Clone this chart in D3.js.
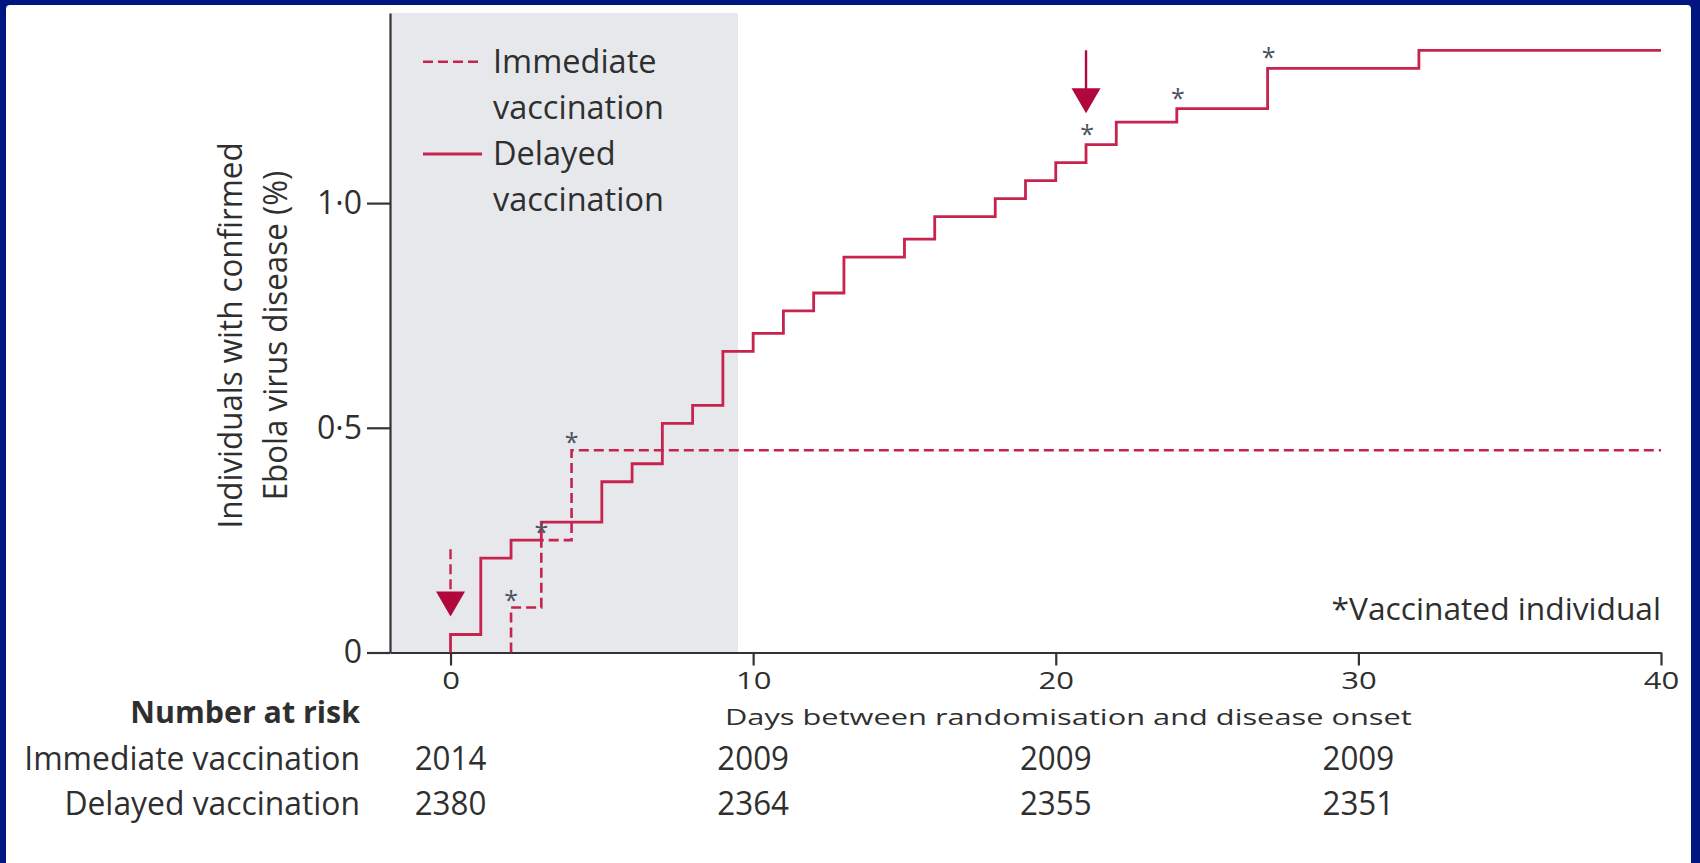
<!DOCTYPE html>
<html>
<head>
<meta charset="utf-8">
<script src="https://cdn.jsdelivr.net/npm/d3@7"></script>
<style>
  body { margin: 0; background: #00177f; }
  svg { display: block; }
  text { font-family: "Open Sans", sans-serif; fill: #2f2f2f; }
</style>
</head>
<body>
<svg id="chart" width="1700" height="863"></svg>
<script>
// ---- data ----
const dayTicks = [0, 10, 20, 30, 40];
const pctTicks = [0, 0.5, 1.0];
const followUpEnd = 40;
const shadedUntil = 9.5;

// delayed arm: day of each step and the cumulative % after it
const delayedDays = [0, 1, 2, 3, 5, 6, 7, 8, 9, 10, 11, 12, 13, 15, 16, 18, 19, 20, 21, 22, 24, 27, 32];
const delayedPct = [0.04, 0.21, 0.25, 0.29, 0.38, 0.42, 0.51, 0.55, 0.67, 0.71, 0.76, 0.80, 0.88, 0.92, 0.97, 1.01, 1.05, 1.09, 1.13, 1.18, 1.21, 1.30, 1.34];

// immediate arm
const immediateDays = [2, 3, 4];
const immediatePct = [0.10, 0.25, 0.45];

// steps that were vaccinated individuals (*)
const starsImmediate = [2, 3, 4];
const starsDelayed = [21, 24, 27];

// arrows (day, from %, tip %)
const arrowDays = [0, 21];
const arrowFrom = [0.23, 1.34];
const arrowTo = [0.08, 1.20];
const arrowDashed = [true, false];

// number at risk
const riskDays = [0, 10, 20, 30];
const riskImmediate = [2014, 2009, 2009, 2009];
const riskDelayed = [2380, 2364, 2355, 2351];

const seriesNames = ['Immediate', 'vaccination', 'Delayed', 'vaccination'];

// ---- styles ----
const lineColor = '#c6234f';
const arrowColor = '#b0083c';
const axisColor = '#333';
const shadeColor = '#e6e8eb';
const starColor = '#4c5260';

const margin = { top: 13, left: 390, right: 39, bottom: 210.5 };
const W = 1700, H = 863;

const svg = d3.select('#chart');

// slide background + white panel
svg.append('rect').attr('width', W).attr('height', H).attr('fill', '#00177f');
svg.append('rect').attr('x', 6).attr('y', 5).attr('width', 1685).attr('height', 862)
  .attr('rx', 4).attr('fill', '#fff');

const x = d3.scaleLinear().domain([-2, followUpEnd]).range([margin.left, W - margin.right]);
const y = d3.scaleLinear().domain([0, 1.423]).range([H - margin.bottom, margin.top]);

function label(g, str, px, py, o) {
  let tr = `translate(${px},${py})`;
  if (o.rotate) tr += ` rotate(${o.rotate})`;
  tr += ` scale(${o.sx || 1},1)`;
  return g.append('text')
    .attr('transform', tr)
    .attr('text-anchor', o.anchor || 'start')
    .style('font-size', o.size + 'px')
    .style('font-weight', o.weight || 'normal')
    .text(str);
}

// shaded window
svg.append('rect')
  .attr('x', x(-2)).attr('y', y(1.423))
  .attr('width', x(shadedUntil) - x(-2))
  .attr('height', y(0) - y(1.423))
  .attr('fill', shadeColor);

// axes
const xAxis = svg.append('g')
  .attr('transform', `translate(0,${y(0)})`)
  .style('color', axisColor)
  .call(d3.axisBottom(x).tickValues(dayTicks).tickSizeInner(13).tickSizeOuter(0).tickPadding(7));
xAxis.selectAll('.tick text')
  .style('font-size', '23px')
  .attr('transform', 'scale(1.35,1)');

const yAxis = svg.append('g')
  .attr('transform', `translate(${x(-2)},0)`)
  .style('color', axisColor)
  .call(d3.axisLeft(y).tickValues(pctTicks).tickSizeInner(23).tickSizeOuter(0).tickPadding(5)
    .tickFormat(d => d === 0 ? '0' : d.toFixed(1).replace('.', '\u00b7')));
yAxis.selectAll('.tick text').style('font-size', '32px');

svg.selectAll('.domain, .tick line').attr('stroke-width', 2.2);

// step curves
const line = d3.line().x(d => x(d[0])).y(d => y(d[1])).curve(d3.curveStepAfter);

const delayedPts = [[0, 0]].concat(delayedDays.map((d, i) => [d, delayedPct[i]]));
delayedPts.push([followUpEnd, delayedPct[delayedPct.length - 1]]);
const immediatePts = [[immediateDays[0], 0]].concat(immediateDays.map((d, i) => [d, immediatePct[i]]));
immediatePts.push([followUpEnd, immediatePct[immediatePct.length - 1]]);

svg.append('path').datum(immediatePts)
  .attr('d', line).attr('fill', 'none')
  .attr('stroke', lineColor).attr('stroke-width', 2.6).attr('stroke-dasharray', '10,5');

svg.append('path').datum(delayedPts)
  .attr('d', line).attr('fill', 'none')
  .attr('stroke', lineColor).attr('stroke-width', 2.8);

// vaccinated markers
const starG = svg.append('g');
starsImmediate.forEach(d => {
  const lvl = immediatePct[immediateDays.indexOf(d)];
  label(starG, '*', x(d), y(lvl) + 1, { size: 25, anchor: 'middle' }).style('fill', starColor);
});
starsDelayed.forEach(d => {
  const lvl = delayedPct[delayedDays.indexOf(d)];
  label(starG, '*', x(d) + 1, y(lvl) - 2, { size: 25, anchor: 'middle' }).style('fill', starColor);
});

// arrows
arrowDays.forEach((d, i) => {
  const ax = x(d), tip = y(arrowTo[i]), head = 25, half = 14.5;
  svg.append('line')
    .attr('x1', ax).attr('x2', ax)
    .attr('y1', y(arrowFrom[i])).attr('y2', tip - head + 2)
    .attr('stroke', arrowDashed[i] ? lineColor : arrowColor)
    .attr('stroke-width', 2.4)
    .attr('stroke-dasharray', arrowDashed[i] ? '10,5' : null);
  svg.append('path')
    .attr('d', `M${ax - half},${tip - head}L${ax + half},${tip - head}L${ax},${tip}Z`)
    .attr('fill', arrowColor);
});

// legend
const leg = svg.append('g');
leg.append('line').attr('x1', 423).attr('x2', 480).attr('y1', 61.7).attr('y2', 61.7)
  .attr('stroke', lineColor).attr('stroke-width', 2.6).attr('stroke-dasharray', '10,5');
leg.append('line').attr('x1', 423).attr('x2', 482).attr('y1', 154).attr('y2', 154)
  .attr('stroke', lineColor).attr('stroke-width', 2.8);
seriesNames.forEach((s, i) => {
  label(leg, s, 493, 72.7 + i * 46, { size: 32.5 });
});

// note
label(svg, '*Vaccinated individual', x(followUpEnd), 620, { size: 30.5, anchor: 'end', sx: 1.04 });

// y title
label(svg, 'Individuals with confirmed', 242, 335.5, { size: 33, anchor: 'middle', rotate: -90, sx: 0.95 });
label(svg, 'Ebola virus disease (%)', 287, 335.5, { size: 33, anchor: 'middle', rotate: -90, sx: 0.95 });

// x title
label(svg, 'Days between randomisation and disease onset', 725, 725, { size: 22, sx: 1.40 });

// number at risk table
label(svg, 'Number at risk', 360, 723, { size: 29.5, anchor: 'end', weight: 'bold', sx: 1.03 });
label(svg, 'Immediate vaccination', 360, 770, { size: 32.5, anchor: 'end', sx: 0.98 });
label(svg, 'Delayed vaccination', 360, 815, { size: 32.5, anchor: 'end', sx: 0.98 });
riskDays.forEach((d, i) => {
  label(svg, riskImmediate[i], x(d), 770, { size: 33, anchor: 'middle', sx: 0.95 });
  label(svg, riskDelayed[i], x(d), 815, { size: 33, anchor: 'middle', sx: 0.95 });
});
</script>
</body>
</html>
